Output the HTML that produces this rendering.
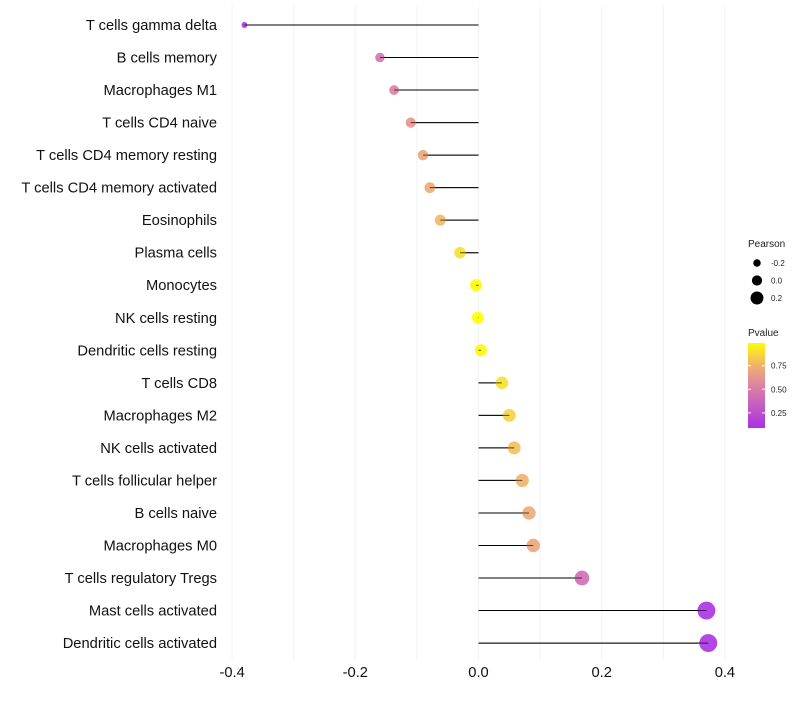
<!DOCTYPE html>
<html><head><meta charset="utf-8"><style>
body{margin:0;background:#fff;font-family:"Liberation Sans",sans-serif}
</style></head><body>
<svg id="chart" width="800" height="700" xmlns="http://www.w3.org/2000/svg"></svg>
<script>
const categories=["T cells gamma delta","B cells memory","Macrophages M1","T cells CD4 naive","T cells CD4 memory resting","T cells CD4 memory activated","Eosinophils","Plasma cells","Monocytes","NK cells resting","Dendritic cells resting","T cells CD8","Macrophages M2","NK cells activated","T cells follicular helper","B cells naive","Macrophages M0","T cells regulatory  Tregs","Mast cells activated","Dendritic cells activated"];
const pearson=[-0.38,-0.16,-0.137,-0.11,-0.09,-0.079,-0.062,-0.03,-0.004,-0.001,0.004,0.038,0.05,0.058,0.071,0.082,0.089,0.168,0.37,0.373];
const pvalues=[0.1,0.45,0.52,0.62,0.7,0.72,0.78,0.9,0.99,1.0,0.98,0.9,0.85,0.8,0.76,0.72,0.7,0.42,0.1,0.1];
const xTicks=[-0.4,-0.2,0,0.2,0.4];
const legendSizes=[-0.2,0.0,0.2];
const legendP=[0.25,0.5,0.75];
const NS="http://www.w3.org/2000/svg";
const svg=document.getElementById('chart');
const X=v=>478.5+v*616;
const Y=i=>25+i*32.53;
const R=v=>Math.max(2.2,6+8*v);
function lerp(a,b,t){return a+(b-a)*t}
const stops=[[0,[160,32,240]],[0.5,[216,124,168]],[0.75,[240,176,112]],[1,[255,255,0]]];
function col(p){p=Math.max(0,Math.min(1,p));for(let k=1;k<stops.length;k++){if(p<=stops[k][0]){const a=stops[k-1],b=stops[k];const t=(p-a[0])/(b[0]-a[0]);return `rgb(${[0,1,2].map(j=>Math.round(lerp(a[1][j],b[1][j],t))).join(',')})`;}}return 'rgb(255,255,0)';}
function el(t,a,p){const e=document.createElementNS(NS,t);for(const k in a)e.setAttribute(k,a[k]);(p||svg).appendChild(e);return e;}
for(let v=-0.4;v<=0.41;v+=0.1){const g=el('line',{x1:X(v),x2:X(v),y1:5,y2:660,stroke:'#f2f2f2','stroke-width':1});

}
xTicks.forEach(t=>{const tx=el('text',{x:X(t),y:677,'text-anchor':'middle','font-size':14.7,fill:'#111'});tx.textContent=t===0?'0.0':t.toFixed(1);

});
categories.forEach((c,i)=>{
const y=Y(i);
const lb=el('text',{x:217,y:y+5,'text-anchor':'end','font-size':14.7,fill:'#111'});lb.textContent=c;


const ln=el('line',{x1:X(0),x2:X(pearson[i]),y1:y,y2:y,stroke:'#000','stroke-width':1});


const pt=el('circle',{cx:X(pearson[i]),cy:y,r:R(pearson[i]),fill:col(pvalues[i]),'fill-opacity':0.9});


el('line',{x1:X(0),x2:X(pearson[i]),y1:y,y2:y,stroke:'#000','stroke-width':1,'stroke-opacity':0.6});
});
const lt=el('text',{x:748,y:247,'font-size':10,fill:'#222'});lt.textContent='Pearson';


legendSizes.forEach((s,k)=>{const y=263+k*17.5;const c=el('circle',{cx:757,cy:y,r:R(s)*0.85,fill:'#000'});


const t=el('text',{x:771,y:y+3,'font-size':8,fill:'#222'});t.textContent=s===0?'0.0':s.toFixed(1);

});
const pt2=el('text',{x:748,y:336,'font-size':10,fill:'#222'});pt2.textContent='Pvalue';


const defs=el('defs',{});const gr=el('linearGradient',{id:'pg',x1:0,y1:1,x2:0,y2:0},defs);
const pMin=0.09,pMax=0.99;
for(let k=0;k<=10;k++){const p=pMin+(pMax-pMin)*k/10;el('stop',{offset:k/10,'stop-color':col(p)},gr);}
const bar=el('rect',{x:748,y:343,width:17,height:85,fill:'url(#pg)'});


legendP.forEach(p=>{const y=428-(p-pMin)/(pMax-pMin)*85;
el('line',{x1:748,x2:751,y1:y,y2:y,stroke:'#fff'});el('line',{x1:762,x2:765,y1:y,y2:y,stroke:'#fff'});
const t=el('text',{x:771,y:y+3,'font-size':8,fill:'#222'});t.textContent=p.toFixed(2);

});
</script>
</body></html>
